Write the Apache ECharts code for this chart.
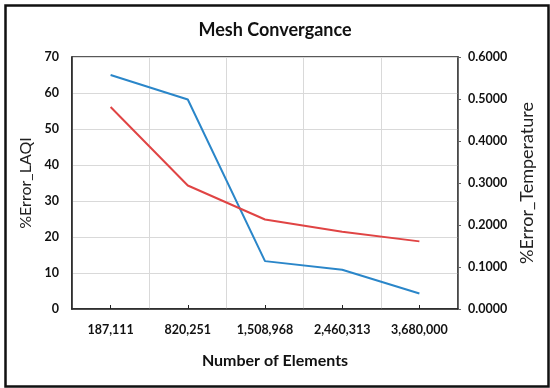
<!DOCTYPE html>
<html><head><meta charset="utf-8">
<script src="https://cdn.jsdelivr.net/npm/echarts@6/dist/echarts.min.js"></script>
<style>html,body{margin:0;padding:0;background:#fff}#c{width:550px;height:388px}</style>
</head><body><div id="c"></div>
<script>
const categories = ['187,111', '820,251', '1,508,968', '2,460,313', '3,680,000'];
const errorLAQI = [65, 58.2, 13.3, 10.9, 4.3];
const errorTemperature = [0.481, 0.294, 0.213, 0.184, 0.161];
const leftTicks = [0, 70, 10];
const rightTicks = [0, 0.6, 0.1];

const chart = echarts.init(document.getElementById('c'));
const FONT = 'Lato';
chart.setOption({
  animation: false,
  backgroundColor: '#fff',
  textStyle: { fontFamily: FONT },
  title: {
    text: 'Mesh Convergance', left: 'center', top: 16,
    textStyle: { fontFamily: FONT, fontSize: 18, fontWeight: 'bold', color: '#111' }
  },
  graphic: [{
    type: 'rect', left: 3, top: 3, shape: { width: 543, height: 381 },
    style: { fill: null, stroke: '#111', lineWidth: 2.5 }, silent: true
  }, {
    type: 'text', left: 'center', top: 353,
    style: { text: 'Number of Elements', font: 'bold 16px ' + FONT, fill: '#111' }
  }],
  grid: { left: 72, right: 92, top: 57, bottom: 79, show: true, borderColor: '#222', borderWidth: 1.5, backgroundColor: 'transparent' },
  xAxis: {
    type: 'category', data: categories, boundaryGap: true,
    axisLine: { lineStyle: { color: '#222', width: 1.5 } },
    axisTick: { show: true, alignWithLabel: true, inside: true, length: 4, lineStyle: { color: '#222' } },
    axisLabel: { color: '#111', fontWeight: 'bold', fontSize: 12.5, margin: 14 },
    splitLine: { show: true, lineStyle: { color: '#d9d9d9', width: 1 } }
  },
  yAxis: [{
    type: 'value', min: leftTicks[0], max: leftTicks[1], interval: leftTicks[2],
    name: '%Error_LAQI', nameLocation: 'middle', nameGap: 29, nameRotate: 90,
    nameTextStyle: { color: '#222', fontSize: 16 },
    axisLine: { show: true, lineStyle: { color: '#222', width: 1.5 } },
    axisTick: { show: false },
    axisLabel: { color: '#111', fontWeight: 'bold', fontSize: 12.5, margin: 13 },
    splitLine: { show: true, lineStyle: { color: '#d9d9d9', width: 1 } }
  }, {
    type: 'value', min: rightTicks[0], max: rightTicks[1], interval: rightTicks[2],
    name: '%Error_Temperature', nameLocation: 'middle', nameGap: 56, nameRotate: 90,
    nameTextStyle: { color: '#222', fontSize: 18 },
    axisLine: { show: true, lineStyle: { color: '#444', width: 1.5 } },
    axisTick: { show: true, length: 3, lineStyle: { color: '#666' } },
    axisLabel: { color: '#111', fontWeight: 'bold', fontSize: 12.5, margin: 10,
      formatter: v => v.toFixed(4) },
    splitLine: { show: false }
  }],
  series: [{
    type: 'line', name: '%Error_LAQI', data: errorLAQI, yAxisIndex: 0,
    symbol: 'none', lineStyle: { color: '#2a86c9', width: 2 }
  }, {
    type: 'line', name: '%Error_Temperature', data: errorTemperature, yAxisIndex: 1,
    symbol: 'none', lineStyle: { color: '#e04444', width: 2 }
  }]
});
</script></body></html>
